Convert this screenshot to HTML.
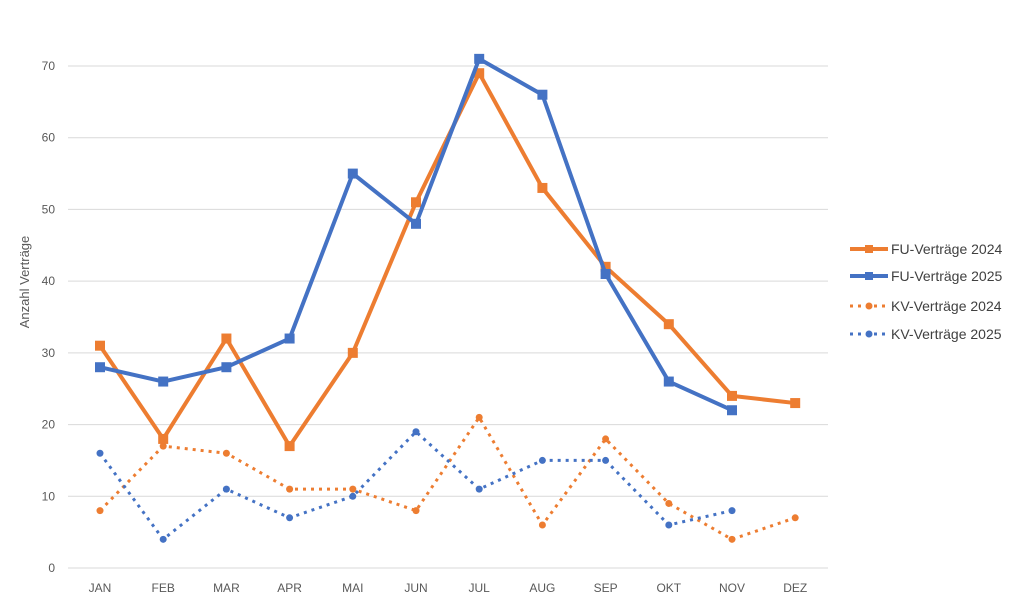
<!DOCTYPE html>
<html><head><meta charset="utf-8"><style>
html,body{margin:0;padding:0;background:#fff;}
svg{display:block;font-family:"Liberation Sans",sans-serif;}
</style></head><body>
<svg id="c" width="1021" height="606" xmlns="http://www.w3.org/2000/svg">
<g stroke="#d9d9d9" stroke-width="1">
<line x1="68" x2="828" y1="568" y2="568"/><line x1="68" x2="828" y1="496.3" y2="496.3"/>
<line x1="68" x2="828" y1="424.6" y2="424.6"/><line x1="68" x2="828" y1="352.9" y2="352.9"/>
<line x1="68" x2="828" y1="281.1" y2="281.1"/><line x1="68" x2="828" y1="209.4" y2="209.4"/>
<line x1="68" x2="828" y1="137.7" y2="137.7"/><line x1="68" x2="828" y1="66" y2="66"/>
</g>
<g fill="#595959" font-size="12" text-anchor="end">
<text x="55" y="572">0</text><text x="55" y="500.3">10</text><text x="55" y="428.6">20</text>
<text x="55" y="356.9">30</text><text x="55" y="285.1">40</text><text x="55" y="213.4">50</text>
<text x="55" y="141.7">60</text><text x="55" y="70">70</text>
</g>
<g fill="#595959" font-size="12" text-anchor="middle" id="xl"></g>
<text transform="translate(29,282) rotate(-90)" fill="#595959" font-size="13" text-anchor="middle">Anzahl Verträge</text>
<g id="series"></g>
<g font-size="14" fill="#404040">
<line x1="850" x2="888" y1="249" y2="249" stroke="#ED7D31" stroke-width="4"/><rect x="865" y="245" width="8" height="8" fill="#ED7D31"/>
<text x="891" y="254">FU-Verträge 2024</text>
<line x1="850" x2="888" y1="276" y2="276" stroke="#4472C4" stroke-width="4"/><rect x="865" y="272" width="8" height="8" fill="#4472C4"/>
<text x="891" y="281">FU-Verträge 2025</text>
<line x1="850" x2="888" y1="306" y2="306" stroke="#ED7D31" stroke-width="3" stroke-dasharray="3,5"/><circle cx="869" cy="306" r="3.5" fill="#ED7D31"/>
<text x="891" y="311">KV-Verträge 2024</text>
<line x1="850" x2="888" y1="334" y2="334" stroke="#4472C4" stroke-width="3" stroke-dasharray="3,5"/><circle cx="869" cy="334" r="3.5" fill="#4472C4"/>
<text x="891" y="339">KV-Verträge 2025</text>
</g>
</svg>
<script>
var ns="http://www.w3.org/2000/svg";
var m=["JAN","FEB","MAR","APR","MAI","JUN","JUL","AUG","SEP","OKT","NOV","DEZ"];
function X(i){return 100+i*63.2;}function Y(v){return 568-7.171*v;}
var xl=document.getElementById("xl");
m.forEach(function(t,i){var e=document.createElementNS(ns,"text");e.setAttribute("x",X(i));e.setAttribute("y",592);e.textContent=t;xl.appendChild(e);});
var S=[
{d:[8,17,16,11,11,8,21,6,18,9,4,7],c:"#ED7D31",dot:1},
{d:[16,4,11,7,10,19,11,15,15,6,8],c:"#4472C4",dot:1},
{d:[31,18,32,17,30,51,69,53,42,34,24,23],c:"#ED7D31",dot:0},
{d:[28,26,28,32,55,48,71,66,41,26,22],c:"#4472C4",dot:0}];
var g=document.getElementById("series");
S.forEach(function(s){
var p=document.createElementNS(ns,"polyline");
p.setAttribute("points",s.d.map(function(v,i){return X(i)+","+Y(v);}).join(" "));
p.setAttribute("fill","none");p.setAttribute("stroke",s.c);
p.setAttribute("stroke-width",s.dot?3:4);p.setAttribute("stroke-linejoin","round");
if(s.dot){p.setAttribute("stroke-dasharray","3,5");}
g.appendChild(p);
s.d.forEach(function(v,i){var e;
if(s.dot){e=document.createElementNS(ns,"circle");e.setAttribute("cx",X(i));e.setAttribute("cy",Y(v));e.setAttribute("r",3.5);}
else{e=document.createElementNS(ns,"rect");e.setAttribute("x",X(i)-5);e.setAttribute("y",Y(v)-5);e.setAttribute("width",10);e.setAttribute("height",10);}
e.setAttribute("fill",s.c);g.appendChild(e);});
});
</script>
</body></html>
